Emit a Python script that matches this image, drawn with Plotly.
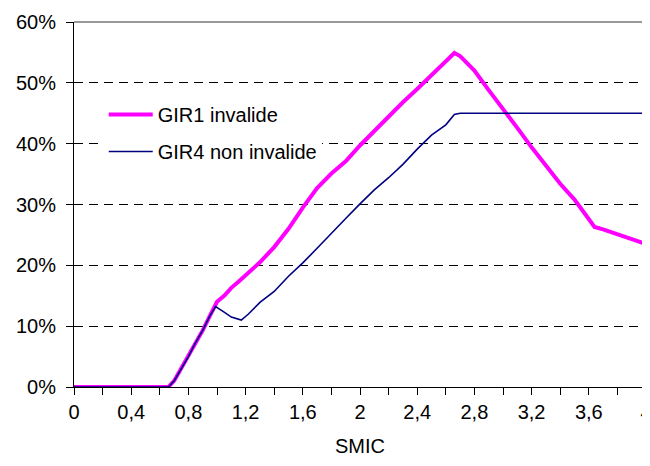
import plotly.graph_objects as go

# GIR1 invalide
smic_gir1 = [0, 0.66, 0.7, 0.75, 0.8, 0.85, 0.9, 0.95, 1.0, 1.05, 1.1, 1.15, 1.2,
             1.3, 1.4, 1.5, 1.6, 1.7, 1.8, 1.9, 2.0, 2.1, 2.2, 2.3, 2.4, 2.5, 2.6,
             2.66, 2.7, 2.8, 2.9, 3.0, 3.1, 3.2, 3.3, 3.4, 3.5, 3.64, 3.7, 3.8,
             3.9, 4.0]
taux_gir1 = [0, 0, 1.0, 3.0, 5.0, 7.3, 9.3, 11.7, 14.0, 15.0, 16.3, 17.3, 18.3,
             20.5, 23.0, 26.0, 29.5, 32.7, 35.1, 37.1, 39.7, 42.1, 44.4, 46.8,
             49.0, 51.3, 53.5, 54.9, 54.4, 52.0, 48.8, 45.8, 42.6, 39.4, 36.4,
             33.4, 30.8, 26.3, 25.9, 25.1, 24.2, 23.5]

# GIR4 non invalide
smic_gir4 = [0, 0.66, 0.7, 0.75, 0.8, 0.85, 0.9, 0.95, 0.99, 1.05, 1.1, 1.17,
             1.22, 1.3, 1.4, 1.5, 1.6, 1.7, 1.8, 1.9, 2.0, 2.1, 2.2, 2.3, 2.4,
             2.5, 2.6, 2.66, 2.7, 4.0]
taux_gir4 = [0, 0, 1.0, 3.0, 5.0, 7.3, 9.3, 11.7, 13.2, 12.3, 11.5, 11.0, 12.0,
             13.9, 15.7, 18.2, 20.4, 22.8, 25.3, 27.7, 30.1, 32.4, 34.4, 36.6,
             39.1, 41.4, 43.1, 44.8, 45.0, 45.0]

x_ticks = [0, 0.4, 0.8, 1.2, 1.6, 2, 2.4, 2.8, 3.2, 3.6, 4]
x_labels = ['0', '0,4', '0,8', '1,2', '1,6', '2', '2,4', '2,8', '3,2', '3,6', '4']
y_ticks = [0, 10, 20, 30, 40, 50, 60]
y_labels = ['0%', '10%', '20%', '30%', '40%', '50%', '60%']

police = dict(family='Liberation Sans, Arial, sans-serif', size=20, color='black')

fig = go.Figure()
fig.add_trace(go.Scatter(x=smic_gir1, y=taux_gir1, mode='lines', name='GIR1 invalide',
                         legendgroup='a', line=dict(color='#FF00FF', width=4)))
fig.add_trace(go.Scatter(x=smic_gir4, y=taux_gir4, mode='lines', name='GIR4 non invalide',
                         legendgroup='b', line=dict(color='#000080', width=1.6)))

# la page ajoute une marge de 8 px : la figure fait donc 642 x 458
fig.update_layout(
    width=642, height=458,
    margin=dict(l=66, r=4, t=14, b=79),
    paper_bgcolor='white', plot_bgcolor='white',
    font=police,
    showlegend=True,
    legend=dict(x=0.052, y=0.80, xanchor='left', yanchor='top',
                bgcolor='white', font=police, traceorder='grouped',
                tracegroupgap=8, itemwidth=44),
)
fig.update_xaxes(range=[0, 4], tickvals=x_ticks, ticktext=x_labels,
                 ticks='outside', ticklen=7, tickcolor='black', automargin=False,
                 ticklabeloverflow='allow',
                 showline=True, linecolor='black', linewidth=1,
                 showgrid=False, zeroline=False,
                 minor=dict(dtick=0.2, ticks='outside', ticklen=7, tickcolor='black'),
                 title=dict(text='SMIC', font=police, standoff=16))
fig.update_yaxes(range=[0, 60], tickvals=y_ticks, ticktext=y_labels,
                 ticks='outside', ticklen=7, tickcolor='black', automargin=False,
                 ticklabelstandoff=6,
                 showline=True, linecolor='black', linewidth=1,
                 showgrid=True, gridcolor='black', gridwidth=1, griddash='9px,6px',
                 zeroline=False)

# bordure grise du cadre (haut et droite)
fig.add_shape(type='line', xref='paper', yref='paper', x0=0, x1=1.006, y0=1, y1=1,
              line=dict(color='#999999', width=2))
fig.add_shape(type='line', xref='paper', yref='paper', x0=1.006, x1=1.006, y0=0, y1=1,
              line=dict(color='#999999', width=2))

fig.write_html("out.html")
